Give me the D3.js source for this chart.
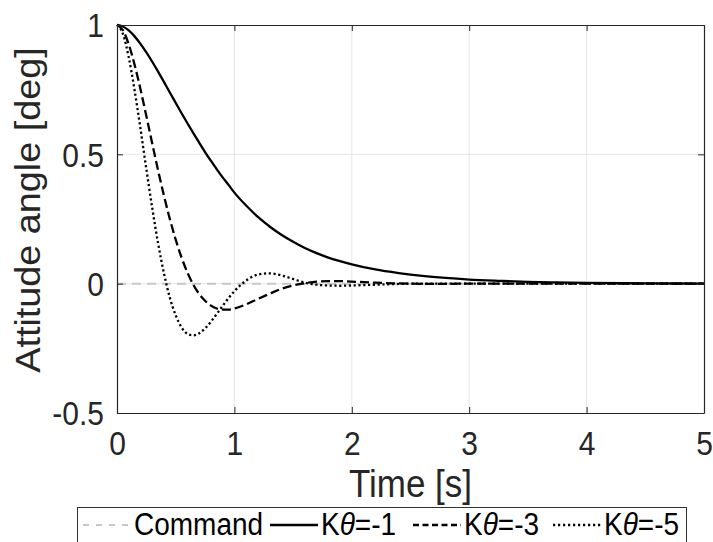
<!DOCTYPE html>
<html>
<head>
<meta charset="utf-8">
<script src="https://cdn.jsdelivr.net/npm/d3@7"></script>
<style>
  html, body { margin: 0; padding: 0; background: #fff; }
  svg { display: block; }
  text { font-family: "Liberation Sans", Arial, Helvetica, sans-serif; }
</style>
</head>
<body>
<svg id="chart" width="713" height="542"></svg>
<script>
// ---- data ----
const time = [0, 0.05, 0.1, 0.15, 0.2, 0.25, 0.3, 0.35, 0.4, 0.45, 0.5, 0.55, 0.6, 0.65, 0.7, 0.75, 0.8, 0.85, 0.9, 0.95, 1.0,
  1.1, 1.2, 1.3, 1.4, 1.5, 1.6, 1.7, 1.8, 1.9, 2.0,
  2.2, 2.4, 2.6, 2.8, 3.0, 3.25, 3.5, 3.75, 4.0, 4.5, 5.0];
const kTheta1 = [1, 0.994, 0.979, 0.956, 0.927, 0.894, 0.858, 0.820, 0.780, 0.739, 0.699, 0.659, 0.620, 0.582, 0.545, 0.509, 0.475, 0.442, 0.411, 0.382, 0.352,
  0.302, 0.258, 0.221, 0.189, 0.162, 0.138, 0.118, 0.101, 0.087, 0.075,
  0.055, 0.041, 0.030, 0.022, 0.016, 0.011, 0.007, 0.005, 0.003, 0.0012, 0.0004];
const kTheta3 = [1, 0.980, 0.925, 0.846, 0.752, 0.648, 0.542, 0.438, 0.340, 0.250, 0.170, 0.101, 0.043, -0.004, -0.040, -0.066, -0.085, -0.096, -0.100, -0.100, -0.096,
  -0.080, -0.059, -0.039, -0.020, -0.007, 0.002, 0.008, 0.010, 0.010, 0.008,
  0.004, 0.001, -0.0005, -0.0005, 0, 0, 0, 0, 0, 0, 0];
const kTheta5 = [1, 0.966, 0.875, 0.747, 0.599, 0.443, 0.293, 0.156, 0.040, -0.054, -0.122, -0.169, -0.194, -0.200, -0.192, -0.173, -0.147, -0.117, -0.086, -0.056, -0.029,
  0.012, 0.035, 0.040, 0.032, 0.018, 0.004, -0.004, -0.007, -0.008, -0.007,
  -0.004, -0.001, 0.0005, 0.0003, 0, 0, 0, 0, 0, 0, 0];
const commandTime = [0, 5];
const commandValue = [0, 0];

const xTicks = [0, 1, 2, 3, 4, 5];
const xTickLabels = ["0", "1", "2", "3", "4", "5"];
const yTicks = [-0.5, 0, 0.5, 1];
const yTickLabels = ["-0.5", "0", "0.5", "1"];

const legendNames = ["Command", "-1", "-3", "-5"];
const xLabel = "Time [s]";
const yLabel = "Attitude angle [deg]";

// ---- layout ----
const svg = d3.select("#chart");
const pL = 117, pR = 704, pT = 25, pB = 413;
const x = d3.scaleLinear().domain([0, 5]).range([pL, pR]);
const y = d3.scaleLinear().domain([-0.5, 1]).range([pB, pT]);
const axisColor = "#262626";
const tall = 1.1; // glyphs in the reference are slightly taller than wide

// grid
const grid = svg.append("g");
grid.selectAll("line.gx").data(xTicks.filter(d => d > 0 && d < 5)).enter().append("line")
  .attr("x1", d => x(d)).attr("x2", d => x(d)).attr("y1", pT).attr("y2", pB)
  .attr("stroke", "#e6e6e6").attr("stroke-width", 1);
grid.selectAll("line.gy").data(yTicks.filter(d => d > -0.5 && d < 1)).enter().append("line")
  .attr("x1", pL).attr("x2", pR).attr("y1", d => y(d)).attr("y2", d => y(d))
  .attr("stroke", "#e6e6e6").attr("stroke-width", 1);

// series
const line = d3.line().x(d => x(d[0])).y(d => y(d[1])).curve(d3.curveMonotoneX);
const series = [
  { t: commandTime, v: commandValue, color: "#c8c8c8", dash: "9,6", legendDash: "6,7", width: 2 },
  { t: time, v: kTheta1, color: "#000", dash: null, legendDash: null, width: 2.3 },
  { t: time, v: kTheta3, color: "#000", dash: "9,4", legendDash: "6,3.5", width: 2.3 },
  { t: time, v: kTheta5, color: "#000", dash: "2.2,2.6", legendDash: "2.2,2.8", width: 2.3 }
];
const plotG = svg.append("g");
series.forEach(s => {
  plotG.append("path")
    .datum(s.t.map((t, i) => [t, s.v[i]]))
    .attr("d", line)
    .attr("fill", "none")
    .attr("stroke", s.color)
    .attr("stroke-width", s.width)
    .attr("stroke-dasharray", s.dash);
});

// axes
const tickFont = 30;
const xAxis = d3.axisBottom(x).tickValues(xTicks).tickFormat((d, i) => xTickLabels[i]).tickSizeInner(-6).tickSizeOuter(0).tickPadding(12);
const gx = svg.append("g").attr("transform", `translate(0,${pB})`).call(xAxis);
const xTop = d3.axisTop(x).tickValues(xTicks).tickFormat("").tickSizeInner(-6).tickSizeOuter(0);
const gxt = svg.append("g").attr("transform", `translate(0,${pT})`).call(xTop);
const yAxis = d3.axisLeft(y).tickValues(yTicks).tickFormat((d, i) => yTickLabels[i]).tickSizeInner(-6).tickSizeOuter(0).tickPadding(12);
const gy = svg.append("g").attr("transform", `translate(${pL},0)`).call(yAxis);
const yRight = d3.axisRight(y).tickValues(yTicks).tickFormat("").tickSizeInner(-6).tickSizeOuter(0);
const gyr = svg.append("g").attr("transform", `translate(${pR},0)`).call(yRight);

[gx, gxt, gy, gyr].forEach(g => {
  g.select(".domain").attr("stroke", axisColor).attr("stroke-width", 1.2);
  g.selectAll(".tick line").attr("stroke", axisColor).attr("stroke-width", 1);
  g.selectAll("text").attr("fill", axisColor).attr("font-size", tickFont)
    .attr("font-family", "'Liberation Sans', Arial, sans-serif");
});
gx.selectAll(".tick text").attr("dy", null).attr("y", 0)
  .attr("transform", `translate(0,${455 - pB}) scale(1,${tall})`);
gy.selectAll(".tick text").attr("x", -13).attr("y", 0).attr("dy", "0.36em")
  .attr("transform", `scale(1,${tall})`);

// axis labels
svg.append("text").attr("transform", `translate(${(pL + pR) / 2},497) scale(1,${tall})`)
  .attr("text-anchor", "middle").attr("font-size", 35).attr("fill", axisColor).text(xLabel);
svg.append("text").attr("transform", `translate(40,210) scale(1,1.08) rotate(-90)`)
  .attr("text-anchor", "middle").attr("font-size", 35).attr("fill", axisColor).text(yLabel);

// legend
const lg = svg.append("g");
lg.append("rect").attr("x", 77.5).attr("y", 507.5).attr("width", 609).attr("height", 50)
  .attr("fill", "#fff").attr("stroke", "#303030").attr("stroke-width", 1);
const legendLineY = 525;
const legendBaseY = 535;
const legendItems = [
  { x0: 83, x1: 132, tx: 134 },
  { x0: 270, x1: 318, tx: 321 },
  { x0: 413, x1: 461, tx: 464 },
  { x0: 553, x1: 601, tx: 604 }
];
legendItems.forEach((it, i) => {
  const s = series[i];
  lg.append("line").attr("x1", it.x0).attr("x2", it.x1).attr("y1", legendLineY).attr("y2", legendLineY)
    .attr("stroke", s.color).attr("stroke-width", s.width).attr("stroke-dasharray", s.legendDash);
  const t = lg.append("text").attr("transform", `translate(${it.tx},${legendBaseY}) scale(1,${tall})`)
    .attr("font-size", 28).attr("fill", "#000");
  if (i === 0) {
    t.text(legendNames[i]);
  } else {
    t.append("tspan").text("K");
    t.append("tspan").attr("font-style", "italic").text("θ");
    t.append("tspan").text("=" + legendNames[i]);
  }
});
</script>
</body>
</html>
